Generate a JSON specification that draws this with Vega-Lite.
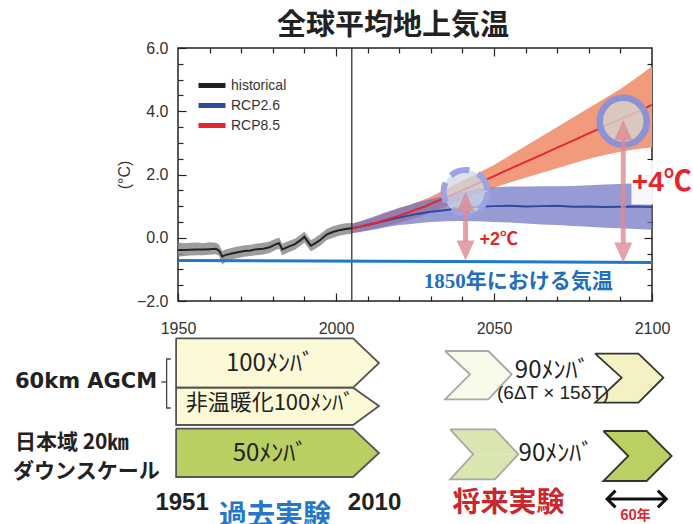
{
  "$schema": "https://vega.github.io/schema/vega-lite/v6.json",
  "background": "white",
  "padding": {"left": 13, "top": 11, "right": 0, "bottom": 0},
  "bounds": "flush",
  "spacing": 32,
  "config": {"view": {"stroke": "#222", "strokeWidth": 1.5}, "font": "Liberation Sans"},
  "resolve": {"scale": {"x": "independent", "y": "independent", "color": "independent", "fill": "independent", "stroke": "independent", "shape": "independent"}},
  "datasets": {
    "ts": [
      {"series": "historical", "year": 1950, "mean": -0.39, "lo": -0.6, "hi": -0.15},
      {"series": "historical", "year": 1952, "mean": -0.39, "lo": -0.58, "hi": -0.17},
      {"series": "historical", "year": 1954, "mean": -0.38, "lo": -0.56, "hi": -0.16},
      {"series": "historical", "year": 1956, "mean": -0.37, "lo": -0.55, "hi": -0.15},
      {"series": "historical", "year": 1958, "mean": -0.37, "lo": -0.55, "hi": -0.17},
      {"series": "historical", "year": 1960, "mean": -0.36, "lo": -0.54, "hi": -0.14},
      {"series": "historical", "year": 1962, "mean": -0.35, "lo": -0.52, "hi": -0.16},
      {"series": "historical", "year": 1963, "mean": -0.41, "lo": -0.58, "hi": -0.22},
      {"series": "historical", "year": 1964, "mean": -0.59, "lo": -0.85, "hi": -0.42},
      {"series": "historical", "year": 1965, "mean": -0.55, "lo": -0.76, "hi": -0.37},
      {"series": "historical", "year": 1967, "mean": -0.5, "lo": -0.68, "hi": -0.32},
      {"series": "historical", "year": 1969, "mean": -0.46, "lo": -0.64, "hi": -0.28},
      {"series": "historical", "year": 1971, "mean": -0.42, "lo": -0.6, "hi": -0.24},
      {"series": "historical", "year": 1973, "mean": -0.4, "lo": -0.58, "hi": -0.22},
      {"series": "historical", "year": 1975, "mean": -0.36, "lo": -0.55, "hi": -0.18},
      {"series": "historical", "year": 1977, "mean": -0.35, "lo": -0.53, "hi": -0.16},
      {"series": "historical", "year": 1979, "mean": -0.3, "lo": -0.48, "hi": -0.12},
      {"series": "historical", "year": 1981, "mean": -0.2, "lo": -0.38, "hi": -0.03},
      {"series": "historical", "year": 1982, "mean": -0.17, "lo": -0.35, "hi": 0.01},
      {"series": "historical", "year": 1983, "mean": -0.37, "lo": -0.55, "hi": -0.19},
      {"series": "historical", "year": 1985, "mean": -0.28, "lo": -0.46, "hi": -0.1},
      {"series": "historical", "year": 1987, "mean": -0.2, "lo": -0.38, "hi": -0.03},
      {"series": "historical", "year": 1989, "mean": -0.06, "lo": -0.24, "hi": 0.11},
      {"series": "historical", "year": 1990, "mean": 0.03, "lo": -0.15, "hi": 0.2},
      {"series": "historical", "year": 1992, "mean": -0.25, "lo": -0.43, "hi": -0.07},
      {"series": "historical", "year": 1993, "mean": -0.2, "lo": -0.38, "hi": -0.02},
      {"series": "historical", "year": 1995, "mean": -0.07, "lo": -0.25, "hi": 0.11},
      {"series": "historical", "year": 1997, "mean": 0.1, "lo": -0.08, "hi": 0.28},
      {"series": "historical", "year": 1999, "mean": 0.18, "lo": 0.0, "hi": 0.36},
      {"series": "historical", "year": 2001, "mean": 0.24, "lo": 0.06, "hi": 0.42},
      {"series": "historical", "year": 2003, "mean": 0.28, "lo": 0.1, "hi": 0.46},
      {"series": "historical", "year": 2005, "mean": 0.3, "lo": 0.13, "hi": 0.47},
      {"series": "RCP2.6", "year": 2005, "mean": 0.3, "lo": 0.14, "hi": 0.44},
      {"series": "RCP2.6", "year": 2008, "mean": 0.36, "lo": 0.19, "hi": 0.53},
      {"series": "RCP2.6", "year": 2010, "mean": 0.4, "lo": 0.22, "hi": 0.6},
      {"series": "RCP2.6", "year": 2013, "mean": 0.47, "lo": 0.28, "hi": 0.7},
      {"series": "RCP2.6", "year": 2015, "mean": 0.52, "lo": 0.32, "hi": 0.78},
      {"series": "RCP2.6", "year": 2018, "mean": 0.59, "lo": 0.37, "hi": 0.88},
      {"series": "RCP2.6", "year": 2020, "mean": 0.64, "lo": 0.4, "hi": 0.95},
      {"series": "RCP2.6", "year": 2023, "mean": 0.7, "lo": 0.43, "hi": 1.03},
      {"series": "RCP2.6", "year": 2025, "mean": 0.74, "lo": 0.45, "hi": 1.1},
      {"series": "RCP2.6", "year": 2028, "mean": 0.79, "lo": 0.48, "hi": 1.17},
      {"series": "RCP2.6", "year": 2030, "mean": 0.82, "lo": 0.5, "hi": 1.22},
      {"series": "RCP2.6", "year": 2035, "mean": 0.88, "lo": 0.52, "hi": 1.35},
      {"series": "RCP2.6", "year": 2040, "mean": 0.94, "lo": 0.53, "hi": 1.45},
      {"series": "RCP2.6", "year": 2045, "mean": 0.98, "lo": 0.52, "hi": 1.55},
      {"series": "RCP2.6", "year": 2050, "mean": 1.0, "lo": 0.5, "hi": 1.6},
      {"series": "RCP2.6", "year": 2055, "mean": 1.01, "lo": 0.48, "hi": 1.62},
      {"series": "RCP2.6", "year": 2060, "mean": 0.99, "lo": 0.45, "hi": 1.62},
      {"series": "RCP2.6", "year": 2065, "mean": 1.0, "lo": 0.42, "hi": 1.63},
      {"series": "RCP2.6", "year": 2070, "mean": 1.01, "lo": 0.4, "hi": 1.63},
      {"series": "RCP2.6", "year": 2075, "mean": 0.98, "lo": 0.37, "hi": 1.64},
      {"series": "RCP2.6", "year": 2080, "mean": 0.99, "lo": 0.35, "hi": 1.66},
      {"series": "RCP2.6", "year": 2085, "mean": 0.97, "lo": 0.32, "hi": 1.68},
      {"series": "RCP2.6", "year": 2090, "mean": 0.98, "lo": 0.3, "hi": 1.7},
      {"series": "RCP2.6", "year": 2095, "mean": 0.99, "lo": 0.28, "hi": 1.72},
      {"series": "RCP2.6", "year": 2100, "mean": 0.97, "lo": 0.25, "hi": 1.75},
      {"series": "RCP8.5", "year": 2005, "mean": 0.3, "lo": 0.14, "hi": 0.44},
      {"series": "RCP8.5", "year": 2008, "mean": 0.36, "lo": 0.2, "hi": 0.52},
      {"series": "RCP8.5", "year": 2010, "mean": 0.42, "lo": 0.24, "hi": 0.58},
      {"series": "RCP8.5", "year": 2013, "mean": 0.48, "lo": 0.3, "hi": 0.67},
      {"series": "RCP8.5", "year": 2015, "mean": 0.55, "lo": 0.35, "hi": 0.75},
      {"series": "RCP8.5", "year": 2018, "mean": 0.63, "lo": 0.42, "hi": 0.86},
      {"series": "RCP8.5", "year": 2020, "mean": 0.7, "lo": 0.47, "hi": 0.93},
      {"series": "RCP8.5", "year": 2023, "mean": 0.8, "lo": 0.56, "hi": 1.03},
      {"series": "RCP8.5", "year": 2025, "mean": 0.88, "lo": 0.62, "hi": 1.1},
      {"series": "RCP8.5", "year": 2028, "mean": 0.98, "lo": 0.72, "hi": 1.22},
      {"series": "RCP8.5", "year": 2030, "mean": 1.07, "lo": 0.8, "hi": 1.3},
      {"series": "RCP8.5", "year": 2035, "mean": 1.28, "lo": 1.0, "hi": 1.55},
      {"series": "RCP8.5", "year": 2040, "mean": 1.5, "lo": 1.2, "hi": 1.8},
      {"series": "RCP8.5", "year": 2045, "mean": 1.72, "lo": 1.4, "hi": 2.05},
      {"series": "RCP8.5", "year": 2050, "mean": 1.95, "lo": 1.58, "hi": 2.3},
      {"series": "RCP8.5", "year": 2055, "mean": 2.18, "lo": 1.75, "hi": 2.6},
      {"series": "RCP8.5", "year": 2060, "mean": 2.4, "lo": 1.9, "hi": 2.9},
      {"series": "RCP8.5", "year": 2065, "mean": 2.62, "lo": 2.05, "hi": 3.2},
      {"series": "RCP8.5", "year": 2070, "mean": 2.85, "lo": 2.2, "hi": 3.5},
      {"series": "RCP8.5", "year": 2075, "mean": 3.07, "lo": 2.35, "hi": 3.8},
      {"series": "RCP8.5", "year": 2080, "mean": 3.3, "lo": 2.5, "hi": 4.1},
      {"series": "RCP8.5", "year": 2085, "mean": 3.52, "lo": 2.62, "hi": 4.4},
      {"series": "RCP8.5", "year": 2090, "mean": 3.75, "lo": 2.72, "hi": 4.7},
      {"series": "RCP8.5", "year": 2095, "mean": 3.97, "lo": 2.8, "hi": 5.05},
      {"series": "RCP8.5", "year": 2100, "mean": 4.2, "lo": 2.86, "hi": 5.42}
    ],
    "vline": [{"year": 2005, "v": -2, "v2": 6}],
    "base": [{"year": 1950, "v": -0.72}, {"year": 2100, "v": -0.78}],
    "circles": [{"kind": "dashed", "year": 2041, "v": 1.45}, {"kind": "solid", "year": 2090.9, "v": 3.68}],
    "shafts": [{"year": 2041, "v": -0.12, "v2": 0.85}, {"year": 2090.9, "v": -0.18, "v2": 3.1}],
    "heads": [
      {"year": 2041, "v": 1.45, "dir": "up"},
      {"year": 2041, "v": -0.72, "dir": "down"},
      {"year": 2090.9, "v": 3.72, "dir": "up"},
      {"year": 2090.9, "v": -0.78, "dir": "down"}
    ],
    "wbox": [{"year": 2093.5, "year2": 2112, "v": 1.05, "v2": 2.45}],
    "tlabels": [
      {"grp": "p2", "year": 2045.4, "v": -0.06, "t": "+2℃"},
      {"grp": "p4", "year": 2093.6, "v": 1.72, "t": "+4℃"},
      {"grp": "base", "year": 2057.7, "v": -1.4, "t": "1850年における気温"}
    ],
    "chevA": [
      {"shape": "b1", "part": "a", "x": 1949.4, "y": 0.53, "y2": 5.47},
      {"shape": "b1", "part": "a", "x": 2005.4, "y": 0.53, "y2": 5.47},
      {"shape": "b1", "part": "a", "x": 2013.6, "y": 3.0, "y2": 3.0},
      {"shape": "b2", "part": "a", "x": 1949.4, "y": 5.47, "y2": 9.2},
      {"shape": "b2", "part": "a", "x": 2005.4, "y": 5.47, "y2": 9.2},
      {"shape": "b2", "part": "a", "x": 2013.6, "y": 7.3, "y2": 7.3},
      {"shape": "b3", "part": "a", "x": 1949.4, "y": 9.57, "y2": 14.4},
      {"shape": "b3", "part": "a", "x": 2005.4, "y": 9.57, "y2": 14.4},
      {"shape": "b3", "part": "a", "x": 2013.6, "y": 12.0, "y2": 12.0},
      {"shape": "f1", "part": "u", "x": 2034.5, "y": 1.8, "y2": 1.8},
      {"shape": "f1", "part": "u", "x": 2042.4, "y": 1.8, "y2": 4.13},
      {"shape": "f1", "part": "u", "x": 2048.2, "y": 1.8, "y2": 4.13},
      {"shape": "f1", "part": "u", "x": 2055.6, "y": 4.13, "y2": 4.13},
      {"shape": "f1", "part": "l", "x": 2034.5, "y": 6.63, "y2": 6.63},
      {"shape": "f1", "part": "l", "x": 2042.4, "y": 4.13, "y2": 6.63},
      {"shape": "f1", "part": "l", "x": 2048.2, "y": 4.13, "y2": 6.63},
      {"shape": "f1", "part": "l", "x": 2055.6, "y": 4.13, "y2": 4.13},
      {"shape": "f2", "part": "u", "x": 2082.0, "y": 2.07, "y2": 2.07},
      {"shape": "f2", "part": "u", "x": 2090.4, "y": 2.07, "y2": 4.47},
      {"shape": "f2", "part": "u", "x": 2095.7, "y": 2.07, "y2": 4.47},
      {"shape": "f2", "part": "u", "x": 2103.6, "y": 4.47, "y2": 4.47},
      {"shape": "f2", "part": "l", "x": 2082.0, "y": 6.97, "y2": 6.97},
      {"shape": "f2", "part": "l", "x": 2090.4, "y": 4.47, "y2": 6.97},
      {"shape": "f2", "part": "l", "x": 2095.7, "y": 4.47, "y2": 6.97},
      {"shape": "f2", "part": "l", "x": 2103.6, "y": 4.47, "y2": 4.47},
      {"shape": "f3", "part": "u", "x": 2036.1, "y": 9.63, "y2": 9.63},
      {"shape": "f3", "part": "u", "x": 2043.4, "y": 9.63, "y2": 12.13},
      {"shape": "f3", "part": "u", "x": 2050.3, "y": 9.63, "y2": 12.13},
      {"shape": "f3", "part": "u", "x": 2057.7, "y": 12.13, "y2": 12.13},
      {"shape": "f3", "part": "l", "x": 2036.1, "y": 14.63, "y2": 14.63},
      {"shape": "f3", "part": "l", "x": 2043.4, "y": 12.13, "y2": 14.63},
      {"shape": "f3", "part": "l", "x": 2050.3, "y": 12.13, "y2": 14.63},
      {"shape": "f3", "part": "l", "x": 2057.7, "y": 12.13, "y2": 12.13},
      {"shape": "f4", "part": "u", "x": 2084.6, "y": 9.8, "y2": 9.8},
      {"shape": "f4", "part": "u", "x": 2092.5, "y": 9.8, "y2": 12.3},
      {"shape": "f4", "part": "u", "x": 2098.3, "y": 9.8, "y2": 12.3},
      {"shape": "f4", "part": "u", "x": 2106.2, "y": 12.3, "y2": 12.3},
      {"shape": "f4", "part": "l", "x": 2084.6, "y": 14.8, "y2": 14.8},
      {"shape": "f4", "part": "l", "x": 2092.5, "y": 12.3, "y2": 14.8},
      {"shape": "f4", "part": "l", "x": 2098.3, "y": 12.3, "y2": 14.8},
      {"shape": "f4", "part": "l", "x": 2106.2, "y": 12.3, "y2": 12.3}
    ],
    "chevL": [
      {"shape": "b1", "i": 0, "x": 1949.4, "y": 0.53}, {"shape": "b1", "i": 1, "x": 2005.4, "y": 0.53}, {"shape": "b1", "i": 2, "x": 2013.6, "y": 3.0}, {"shape": "b1", "i": 3, "x": 2005.4, "y": 5.47}, {"shape": "b1", "i": 4, "x": 1949.4, "y": 5.47}, {"shape": "b1", "i": 5, "x": 1949.4, "y": 0.53},
      {"shape": "b2", "i": 0, "x": 1949.4, "y": 5.47}, {"shape": "b2", "i": 1, "x": 2005.4, "y": 5.47}, {"shape": "b2", "i": 2, "x": 2013.6, "y": 7.3}, {"shape": "b2", "i": 3, "x": 2005.4, "y": 9.2}, {"shape": "b2", "i": 4, "x": 1949.4, "y": 9.2}, {"shape": "b2", "i": 5, "x": 1949.4, "y": 5.47},
      {"shape": "b3", "i": 0, "x": 1949.4, "y": 9.57}, {"shape": "b3", "i": 1, "x": 2005.4, "y": 9.57}, {"shape": "b3", "i": 2, "x": 2013.6, "y": 12.0}, {"shape": "b3", "i": 3, "x": 2005.4, "y": 14.4}, {"shape": "b3", "i": 4, "x": 1949.4, "y": 14.4}, {"shape": "b3", "i": 5, "x": 1949.4, "y": 9.57},
      {"shape": "f1", "i": 0, "x": 2034.5, "y": 1.8}, {"shape": "f1", "i": 1, "x": 2048.2, "y": 1.8}, {"shape": "f1", "i": 2, "x": 2055.6, "y": 4.13}, {"shape": "f1", "i": 3, "x": 2048.2, "y": 6.63}, {"shape": "f1", "i": 4, "x": 2034.5, "y": 6.63}, {"shape": "f1", "i": 5, "x": 2042.4, "y": 4.13}, {"shape": "f1", "i": 6, "x": 2034.5, "y": 1.8},
      {"shape": "f2", "i": 0, "x": 2082.0, "y": 2.07}, {"shape": "f2", "i": 1, "x": 2095.7, "y": 2.07}, {"shape": "f2", "i": 2, "x": 2103.6, "y": 4.47}, {"shape": "f2", "i": 3, "x": 2095.7, "y": 6.97}, {"shape": "f2", "i": 4, "x": 2082.0, "y": 6.97}, {"shape": "f2", "i": 5, "x": 2090.4, "y": 4.47}, {"shape": "f2", "i": 6, "x": 2082.0, "y": 2.07},
      {"shape": "f3", "i": 0, "x": 2036.1, "y": 9.63}, {"shape": "f3", "i": 1, "x": 2050.3, "y": 9.63}, {"shape": "f3", "i": 2, "x": 2057.7, "y": 12.13}, {"shape": "f3", "i": 3, "x": 2050.3, "y": 14.63}, {"shape": "f3", "i": 4, "x": 2036.1, "y": 14.63}, {"shape": "f3", "i": 5, "x": 2043.4, "y": 12.13}, {"shape": "f3", "i": 6, "x": 2036.1, "y": 9.63},
      {"shape": "f4", "i": 0, "x": 2084.6, "y": 9.8}, {"shape": "f4", "i": 1, "x": 2098.3, "y": 9.8}, {"shape": "f4", "i": 2, "x": 2106.2, "y": 12.3}, {"shape": "f4", "i": 3, "x": 2098.3, "y": 14.8}, {"shape": "f4", "i": 4, "x": 2084.6, "y": 14.8}, {"shape": "f4", "i": 5, "x": 2092.5, "y": 12.3}, {"shape": "f4", "i": 6, "x": 2084.6, "y": 9.8}
    ],
    "bracket": [
      {"seg": "a", "i": 0, "x": 1947.7, "y": 2.6}, {"seg": "a", "i": 1, "x": 1946.4, "y": 2.6}, {"seg": "a", "i": 2, "x": 1946.4, "y": 7.5}, {"seg": "a", "i": 3, "x": 1947.7, "y": 7.5},
      {"seg": "b", "i": 0, "x": 1944.7, "y": 4.9}, {"seg": "b", "i": 1, "x": 1946.4, "y": 4.9}
    ],
    "btext": [
      {"grp": "m", "x": 1979.1, "y": 3.1, "t": "100ﾒﾝﾊﾞ"},
      {"grp": "m", "x": 1979.1, "y": 12.1, "t": "50ﾒﾝﾊﾞ"},
      {"grp": "m", "x": 2068.4, "y": 3.8, "t": "90ﾒﾝﾊﾞ"},
      {"grp": "m", "x": 2069.6, "y": 12.1, "t": "90ﾒﾝﾊﾞ"},
      {"grp": "m2", "x": 1979.1, "y": 7.0, "t": "非温暖化100ﾒﾝﾊﾞ"},
      {"grp": "dt", "x": 2068.7, "y": 6.0, "t": "(6ΔT × 15δT)"},
      {"grp": "agcm", "x": 1943.4, "y": 4.87, "t": "60km AGCM"},
      {"grp": "jp", "x": 1898.4, "y": 11.0, "t": "日本域 20㎞"},
      {"grp": "jp", "x": 1897.8, "y": 13.9, "t": "ダウンスケール"},
      {"grp": "yr", "x": 1951.3, "y": 17.0, "t": "1951"},
      {"grp": "yr", "x": 2012.2, "y": 17.0, "t": "2010"},
      {"grp": "kako", "x": 1980.7, "y": 18.4, "t": "過去実験"},
      {"grp": "shorai", "x": 2054.6, "y": 17.1, "t": "将来実験"},
      {"grp": "sixty", "x": 2094.8, "y": 18.3, "t": "60年"}
    ],
    "darrow": [{"x": 2086.3, "x2": 2104.0, "y": 16.6}],
    "dheads": [{"x": 2085.8, "y": 16.6, "dir": "L"}, {"x": 2104.5, "y": 16.6, "dir": "R"}]
  },
  "vconcat": [
    {
      "width": 474,
      "height": 253,
      "title": {"text": "全球平均地上気温", "font": "Noto Sans CJK JP", "fontSize": 29, "fontWeight": "bold", "color": "#222", "anchor": "middle", "frame": "group", "dx": -22, "offset": -24, "baseline": "alphabetic"},
      "resolve": {"axis": {"x": "independent", "y": "independent"}},
      "encoding": {
        "x": {"field": "year", "type": "quantitative", "scale": {"domain": [1950, 2100], "nice": false, "zero": false}, "axis": null},
        "y": {"field": "v", "type": "quantitative", "scale": {"domain": [-2, 6], "nice": false, "zero": false}, "axis": null}
      },
      "layer": [
        {
          "data": {"name": "ts"},
          "transform": [{"filter": "datum.series === 'historical'"}],
          "mark": {"type": "area", "color": "#8c8c8c", "opacity": 0.85, "orient": "vertical"},
          "encoding": {
            "x": {"field": "year", "type": "quantitative", "scale": {"domain": [1950, 2100], "nice": false, "zero": false},
              "axis": {"orient": "bottom", "values": [1950, 2000, 2050, 2100], "format": "d", "tickSize": -8, "labelPadding": 27, "labelFont": "Liberation Sans", "labelFontSize": 16, "labelColor": "#333", "labelFlush": false, "labelOverlap": false, "domain": false, "grid": false, "tickColor": "#222", "tickWidth": 1.2, "title": null}},
            "y": {"field": "lo", "type": "quantitative", "scale": {"domain": [-2, 6], "nice": false, "zero": false},
              "axis": {"orient": "left", "values": [-2, 0, 2, 4, 6], "format": ".1f", "tickSize": -8, "labelPadding": 18, "labelFont": "Liberation Sans", "labelFontSize": 16, "labelColor": "#333", "domain": false, "grid": false, "tickColor": "#222", "tickWidth": 1.2, "title": "(°C)", "titleFont": "Liberation Sans", "titleFontSize": 16, "titleFontWeight": "normal", "titleColor": "#333", "titlePadding": 4}},
            "y2": {"field": "hi"}
          }
        },
        {
          "data": {"name": "ts"},
          "transform": [{"filter": "datum.series === 'RCP8.5'"}],
          "mark": {"type": "area", "color": "#f29a7c", "orient": "vertical"},
          "encoding": {
            "y": {"field": "lo", "type": "quantitative", "scale": {"domain": [-2, 6], "nice": false, "zero": false}, "axis": null},
            "y2": {"field": "hi"}
          }
        },
        {
          "data": {"name": "ts"},
          "transform": [{"filter": "datum.series === 'RCP2.6'"}],
          "mark": {"type": "area", "color": "#6a70c0", "opacity": 0.7, "orient": "vertical"},
          "encoding": {
            "y": {"field": "lo", "type": "quantitative", "scale": {"domain": [-2, 6], "nice": false, "zero": false}, "axis": null},
            "y2": {"field": "hi"}
          }
        },
        {
          "data": {"name": "ts"},
          "mark": {"type": "line", "strokeWidth": 2},
          "encoding": {
            "y": {"field": "mean", "type": "quantitative", "scale": {"domain": [-2, 6], "nice": false, "zero": false}, "axis": null},
            "color": {"field": "series", "type": "nominal",
              "scale": {"domain": ["historical", "RCP2.6", "RCP8.5"], "range": ["#222222", "#2e4a9c", "#e3262b"]},
              "legend": {"title": null, "orient": "none", "legendX": 24.5, "legendY": 28, "symbolType": "M-1.93,0L1.93,0", "symbolSize": 196, "symbolStrokeWidth": 5, "labelFont": "Liberation Sans", "labelFontSize": 14, "labelColor": "#333", "labelOffset": 9.5, "rowPadding": -2, "padding": 0}}
          }
        },
        {
          "data": {"name": "vline"},
          "mark": {"type": "rule", "color": "#222", "strokeWidth": 1.2},
          "encoding": {
            "x": {"field": "year", "type": "quantitative", "scale": {"domain": [1950, 2100], "nice": false, "zero": false},
              "axis": {"orient": "bottom", "values": [1960, 1970, 1980, 1990, 2010, 2020, 2030, 2040, 2060, 2070, 2080, 2090], "tickSize": -5, "labels": false, "minExtent": 0, "domain": false, "grid": false, "tickColor": "#222", "tickWidth": 1.2, "title": null}},
            "y": {"field": "v", "type": "quantitative", "scale": {"domain": [-2, 6], "nice": false, "zero": false},
              "axis": {"orient": "left", "values": [-1.5, -1, -0.5, 0.5, 1, 1.5, 2.5, 3, 3.5, 4.5, 5, 5.5], "tickSize": -5, "labels": false, "minExtent": 0, "domain": false, "grid": false, "tickColor": "#222", "tickWidth": 1.2, "title": null}},
            "y2": {"field": "v2"}
          }
        },
        {
          "data": {"name": "base"},
          "mark": {"type": "line", "color": "#1f78c8", "strokeWidth": 3},
          "encoding": {
            "x": {"field": "year", "type": "quantitative", "scale": {"domain": [1950, 2100], "nice": false, "zero": false},
              "axis": {"orient": "top", "values": [2000, 2050], "tickSize": -8, "labels": false, "minExtent": 0, "domain": false, "grid": false, "tickColor": "#222", "tickWidth": 1.2, "title": null}},
            "y": {"field": "v", "type": "quantitative", "scale": {"domain": [-2, 6], "nice": false, "zero": false},
              "axis": {"orient": "right", "values": [0, 2, 4], "tickSize": -8, "labels": false, "minExtent": 0, "domain": false, "grid": false, "tickColor": "#222", "tickWidth": 1.2, "title": null}}
          }
        },
        {
          "data": {"name": "circles"},
          "transform": [{"filter": "datum.kind === 'dashed'"}],
          "mark": {"type": "point", "shape": "circle", "filled": true, "size": 1936, "fill": "#cdd7e4", "fillOpacity": 0.75, "stroke": "#9ea2e2", "strokeOpacity": 1, "strokeWidth": 6, "strokeDash": [20, 9], "opacity": 1},
          "encoding": {
            "x": {"field": "year", "type": "quantitative", "scale": {"domain": [1950, 2100], "nice": false, "zero": false},
              "axis": {"orient": "top", "values": [1960, 1970, 1980, 1990, 2010, 2020, 2030, 2040, 2060, 2070, 2080, 2090], "tickSize": -5, "labels": false, "minExtent": 0, "domain": false, "grid": false, "tickColor": "#222", "tickWidth": 1.2, "title": null}},
            "y": {"field": "v", "type": "quantitative", "scale": {"domain": [-2, 6], "nice": false, "zero": false},
              "axis": {"orient": "right", "values": [-1.5, -1, -0.5, 0.5, 1, 1.5, 2.5, 3, 3.5, 4.5, 5, 5.5], "tickSize": -5, "labels": false, "minExtent": 0, "domain": false, "grid": false, "tickColor": "#222", "tickWidth": 1.2, "title": null}}
          }
        },
        {
          "data": {"name": "circles"},
          "transform": [{"filter": "datum.kind === 'solid'"}],
          "mark": {"type": "point", "shape": "circle", "filled": true, "size": 2209, "fill": "#d6cfca", "fillOpacity": 0.85, "stroke": "#8d91d6", "strokeOpacity": 1, "strokeWidth": 6.5, "opacity": 1}
        },
        {
          "data": {"name": "shafts"},
          "mark": {"type": "rule", "color": "#dc8995", "strokeWidth": 5, "opacity": 0.8},
          "encoding": {"y2": {"field": "v2"}}
        },
        {
          "data": {"name": "heads"},
          "mark": {"type": "point", "filled": true, "color": "#dc8995", "opacity": 0.8, "size": 100, "strokeWidth": 0},
          "encoding": {
            "shape": {"field": "dir", "type": "nominal", "scale": {"domain": ["up", "down"], "range": ["M0,0L-1.8,4L1.8,4Z", "M0,0L-1.8,-4L1.8,-4Z"]}, "legend": null}
          }
        },
        {
          "data": {"name": "wbox"},
          "mark": {"type": "rect", "color": "white", "opacity": 0.92},
          "encoding": {"x2": {"field": "year2"}, "y2": {"field": "v2"}}
        },
        {
          "data": {"name": "tlabels"},
          "transform": [{"filter": "datum.grp === 'p2'"}],
          "mark": {"type": "text", "align": "left", "baseline": "middle", "font": "Liberation Sans, Noto Sans CJK JP", "fontSize": 18, "fontWeight": "bold", "color": "#e3262b"},
          "encoding": {"text": {"field": "t"}}
        },
        {
          "data": {"name": "tlabels"},
          "transform": [{"filter": "datum.grp === 'p4'"}],
          "mark": {"type": "text", "align": "left", "baseline": "middle", "font": "Liberation Sans, Noto Sans CJK JP", "fontSize": 28, "fontWeight": "bold", "color": "#e3262b"},
          "encoding": {"text": {"field": "t"}}
        },
        {
          "data": {"name": "tlabels"},
          "transform": [{"filter": "datum.grp === 'base'"}],
          "mark": {"type": "text", "align": "center", "baseline": "middle", "font": "Liberation Serif, Noto Sans CJK JP", "fontSize": 21, "fontWeight": "bold", "color": "#1e6fbe"},
          "encoding": {"text": {"field": "t"}}
        }
      ]
    },
    {
      "width": 474,
      "height": 192,
      "view": {"stroke": null},
      "encoding": {
        "x": {"field": "x", "type": "quantitative", "scale": {"domain": [1950, 2100], "nice": false, "zero": false}, "axis": null},
        "y": {"field": "y", "type": "quantitative", "scale": {"domain": [0, 19.2], "reverse": true, "nice": false, "zero": false}, "axis": null}
      },
      "layer": [
        {
          "data": {"name": "chevA"},
          "mark": {"type": "area", "orient": "vertical", "opacity": 1},
          "encoding": {
            "y2": {"field": "y2"},
            "detail": {"field": "part"},
            "fill": {"field": "shape", "type": "nominal", "scale": {"domain": ["b1", "b2", "b3", "f1", "f2", "f3", "f4"], "range": ["#fbf9d6", "#fbf9d6", "#b8cf61", "#f9faea", "#f4f2c3", "#dae6af", "#b9d162"]}, "legend": null}
          }
        },
        {
          "data": {"name": "chevL"},
          "mark": {"type": "line", "strokeWidth": 1.8, "strokeJoin": "miter"},
          "encoding": {
            "order": {"field": "i", "type": "quantitative"},
            "stroke": {"field": "shape", "type": "nominal", "scale": {"domain": ["b1", "b2", "b3", "f1", "f2", "f3", "f4"], "range": ["#555555", "#555555", "#555555", "#a8a8a8", "#333333", "#a8a8a8", "#333333"]}, "legend": null}
          }
        },
        {
          "data": {"name": "bracket"},
          "mark": {"type": "line", "color": "#444", "strokeWidth": 1.3},
          "encoding": {"order": {"field": "i", "type": "quantitative"}, "detail": {"field": "seg"}}
        },
        {
          "data": {"name": "darrow"},
          "mark": {"type": "rule", "color": "#111", "strokeWidth": 3},
          "encoding": {"x2": {"field": "x2"}}
        },
        {
          "data": {"name": "dheads"},
          "mark": {"type": "point", "filled": false, "size": 144, "strokeWidth": 3, "color": "#111", "opacity": 1},
          "encoding": {"shape": {"field": "dir", "type": "nominal", "scale": {"domain": ["L", "R"], "range": ["M1.4,-1.4L0,0L1.4,1.4", "M-1.4,-1.4L0,0L-1.4,1.4"]}, "legend": null}}
        },
        {
          "data": {"name": "btext"},
          "transform": [{"filter": "datum.grp === 'm'"}],
          "mark": {"type": "text", "align": "center", "baseline": "middle", "font": "Noto Sans CJK JP", "fontSize": 24, "color": "#222"},
          "encoding": {"text": {"field": "t"}}
        },
        {
          "data": {"name": "btext"},
          "transform": [{"filter": "datum.grp === 'm2'"}],
          "mark": {"type": "text", "align": "center", "baseline": "middle", "font": "Noto Sans CJK JP", "fontSize": 22, "color": "#222"},
          "encoding": {"text": {"field": "t"}}
        },
        {
          "data": {"name": "btext"},
          "transform": [{"filter": "datum.grp === 'dt'"}],
          "mark": {"type": "text", "align": "center", "baseline": "middle", "font": "Liberation Sans", "fontSize": 19, "color": "#222"},
          "encoding": {"text": {"field": "t"}}
        },
        {
          "data": {"name": "btext"},
          "transform": [{"filter": "datum.grp === 'agcm'"}],
          "mark": {"type": "text", "align": "right", "baseline": "middle", "font": "DejaVu Sans", "fontSize": 21, "fontWeight": "bold", "color": "#222"},
          "encoding": {"text": {"field": "t"}}
        },
        {
          "data": {"name": "btext"},
          "transform": [{"filter": "datum.grp === 'jp'"}],
          "mark": {"type": "text", "align": "left", "baseline": "middle", "font": "Noto Sans CJK JP", "fontSize": 21, "fontWeight": "bold", "color": "#222"},
          "encoding": {"text": {"field": "t"}}
        },
        {
          "data": {"name": "btext"},
          "transform": [{"filter": "datum.grp === 'yr'"}],
          "mark": {"type": "text", "align": "center", "baseline": "middle", "font": "Liberation Sans", "fontSize": 24, "fontWeight": "bold", "color": "#222"},
          "encoding": {"text": {"field": "t"}}
        },
        {
          "data": {"name": "btext"},
          "transform": [{"filter": "datum.grp === 'kako'"}],
          "mark": {"type": "text", "align": "center", "baseline": "middle", "font": "Noto Sans CJK JP", "fontSize": 28, "fontWeight": "bold", "color": "#2677c6"},
          "encoding": {"text": {"field": "t"}}
        },
        {
          "data": {"name": "btext"},
          "transform": [{"filter": "datum.grp === 'shorai'"}],
          "mark": {"type": "text", "align": "center", "baseline": "middle", "font": "Noto Sans CJK JP", "fontSize": 28, "fontWeight": "bold", "color": "#c8282e"},
          "encoding": {"text": {"field": "t"}}
        },
        {
          "data": {"name": "btext"},
          "transform": [{"filter": "datum.grp === 'sixty'"}],
          "mark": {"type": "text", "align": "center", "baseline": "middle", "font": "Noto Sans CJK JP", "fontSize": 14, "fontWeight": "bold", "color": "#e0262b"},
          "encoding": {"text": {"field": "t"}}
        }
      ]
    }
  ]
}
